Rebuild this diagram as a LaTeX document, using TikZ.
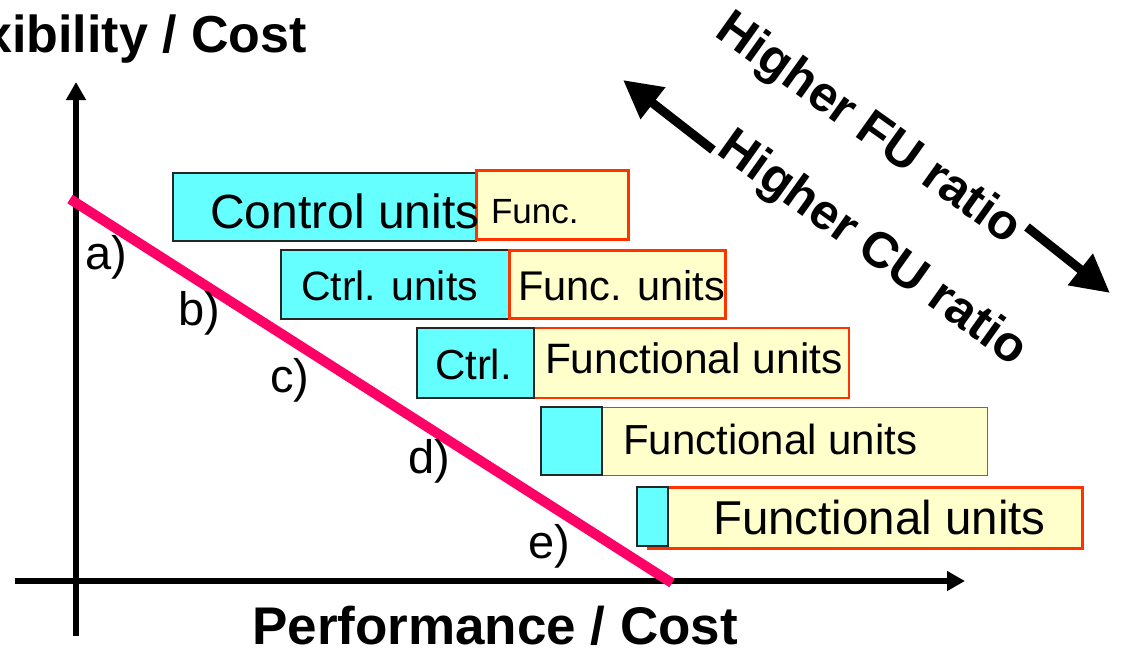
\documentclass[tikz,border=0pt]{standalone}
\usepackage{fontspec}
\setmainfont{Liberation Sans}
\usetikzlibrary{arrows.meta}
\definecolor{cucol}{HTML}{66FFFF}
\definecolor{fucol}{HTML}{FFFFCC}
\definecolor{fuedge}{HTML}{FF3300}
\definecolor{pinkcol}{HTML}{FF0066}
\newcommand{\fsz}[1]{\fontsize{#1}{#1}\selectfont}
\begin{document}
\begin{tikzpicture}[x=1pt,y=-1pt,
  cubox/.style={draw=black!85, line width=1.3, fill=cucol, inner sep=0, outer sep=0, anchor=north west},
  fubox/.style={draw=fuedge, fill=fucol, inner sep=0, outer sep=0, anchor=north west},
  txt/.style={anchor=base west, inner sep=0, outer sep=0},
  axis/.style={line width=5.5, -{Triangle[length=18,width=19]}},
  bigarrow/.style={line width=9, -{Triangle[length=38,width=38]}},
  rotlbl/.style={inner sep=0, rotate=-35.5, font=\fsz{50}\bfseries},
  ttl/.style={inner sep=0, font=\fsz{52}\bfseries}]
\useasboundingbox (0,0) rectangle (1128,649);
\clip (0,0) rectangle (1128,649);

% axes
\coordinate (xs) at (15,581);
\coordinate (xe) at (965,581);
\coordinate (yb) at (76,636);
\coordinate (yt) at (76,82);
\draw[axis] (xs) -- (xe);
\draw[axis] (yb) -- (yt);

% titles
\node[ttl, anchor=base east] (ytitle) at (307,52) {Flexibility / Cost};
\node[ttl, anchor=base west, font=\fsz{53}\bfseries] (xtitle) at (252,644) {Performance / Cost};

% row 1
\node[cubox, minimum width=303, minimum height=68] (c1) at (173,173) {};
\node[fubox, line width=3, minimum width=152, minimum height=69] (f1) at (476.5,170.5) {};
\node[txt, font=\fsz{48}] (t1c) at (210,228) {Control units};
\node[txt, font=\fsz{35}] (t1f) at (491,223) {Func.};

% row 2
\node[cubox, minimum width=228, minimum height=69] (c2) at (281,250) {};
\node[fubox, line width=3, minimum width=216, minimum height=68] (f2) at (509.5,250.5) {};
\node[txt, font=\fsz{41}] (t2c) at (301,300) {Ctrl. units};
\node[txt, font=\fsz{41.5}] (t2f) at (518,300) {Func. units};

% row 3
\node[fubox, line width=2, minimum width=357, minimum height=70] (f3) at (492,328) {};
\node[cubox, minimum width=117, minimum height=70] (c3) at (417,328) {};
\node[txt, font=\fsz{42}] (t3c) at (435,379) {Ctrl.};
\node[txt, font=\fsz{42.5}] (t3f) at (545,373) {Functional units};

% row 4
\node[fubox, line width=1, minimum width=385, minimum height=68] (f4) at (602,407) {};
\node[cubox, minimum width=61, minimum height=68] (c4) at (541,407) {};
\node[txt, font=\fsz{42}] (t4f) at (623,454) {Functional units};

% row 5
\node[fubox, line width=3, minimum width=434, minimum height=61] (f5) at (648.5,487.5) {};
\node[cubox, minimum width=31, minimum height=59] (c5) at (637,487) {};
\node[txt, font=\fsz{47.5}] (t5f) at (713,534) {Functional units};

% pink trade-off line
\coordinate (p1) at (70,199);
\coordinate (p2) at (672,583);
\draw[pinkcol, line width=10] (p1) -- (p2);

% labels
\node[txt, font=\fsz{47}] (la) at (85,269) {a)};
\node[txt, font=\fsz{47}] (lb) at (178,325) {b)};
\node[txt, font=\fsz{47}] (lc) at (270,392) {c)};
\node[txt, font=\fsz{47}] (ld) at (408,473) {d)};
\node[txt, font=\fsz{47}] (le) at (528,558) {e)};

% ratio arrows
\coordinate (a1s) at (713,150);
\coordinate (a1e) at (623,80);
\coordinate (a2s) at (1027,227);
\coordinate (a2e) at (1110,293);
\draw[bigarrow] (a1s) -- (a1e);
\draw[bigarrow] (a2s) -- (a2e);
\node[rotlbl] (fu) at (868,130) {Higher FU ratio};
\node[rotlbl] (cu) at (872,250) {Higher CU ratio};
\end{tikzpicture}
\end{document}
